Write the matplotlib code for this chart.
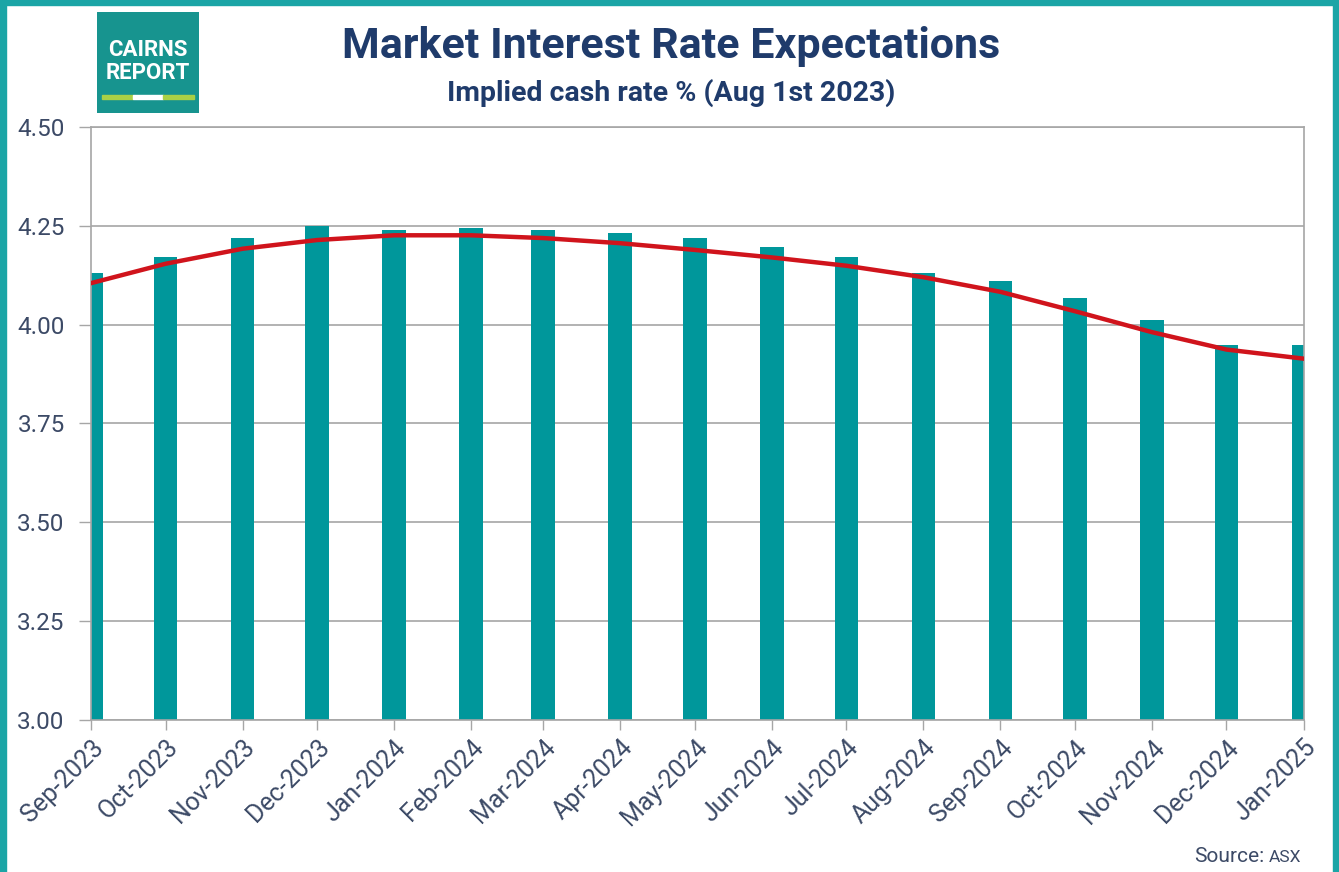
import numpy as np
import pandas as pd
import matplotlib
matplotlib.use("Agg")
import matplotlib.pyplot as plt
import matplotlib.dates as mdates
from matplotlib.patches import Rectangle

# Данные: ожидаемая ставка по месяцам
months = pd.date_range("2023-09-01", "2025-01-01", freq="MS")
rates = [4.131, 4.171, 4.220, 4.250, 4.240, 4.244, 4.240, 4.233, 4.220,
         4.196, 4.171, 4.131, 4.111, 4.067, 4.012, 3.948, 3.948]
# сглаженная кривая (красная линия)
trend = [4.105, 4.154, 4.192, 4.214, 4.226, 4.226, 4.219, 4.206, 4.189,
         4.170, 4.149, 4.120, 4.083, 4.034, 3.981, 3.937, 3.914]
y_ticks = [3.00, 3.25, 3.50, 3.75, 4.00, 4.25, 4.50]

title = "Market Interest Rate Expectations"
subtitle = "Implied cash rate % (Aug 1st 2023)"

navy = "#1f3b6b"
label_col = "#3c4a66"
bar_col = "#00979b"
border_col = "#1ba5a6"

plt.rcParams["font.family"] = ["Roboto", "DejaVu Sans"]

fig = plt.figure(figsize=(13.39, 8.72), dpi=100)
fig.patch.set_facecolor("white")

ax = fig.add_axes([0.068, 0.1743, 0.9055, 0.6801])

xn = mdates.date2num(months)

# столбцы
ax.bar(xn, rates, width=9.5, color=bar_col, zorder=2)
# красная линия
ax.plot(xn, trend, color="#d0141c", lw=3.2, zorder=3, solid_joinstyle="round")

ax.set_xlim(xn[0], xn[-1])
ax.set_ylim(3.0, 4.5)
ax.set_yticks(y_ticks)
ax.set_yticklabels([f"{v:.2f}" for v in y_ticks])
ax.set_xticks(xn)
ax.set_xticklabels([d.strftime("%b-%Y") for d in months], rotation=45,
                   ha="right", rotation_mode="anchor")

ax.grid(axis="y", color="#a6a6a6", lw=1.2, zorder=1)
for s in ["left", "right", "bottom", "top"]:
    ax.spines[s].set_color("#a6a6a6")
    ax.spines[s].set_linewidth(1.2)
ax.tick_params(axis="y", length=9, width=1, color="#a6a6a6", labelsize=17.5,
               labelcolor=label_col, pad=10)
ax.tick_params(axis="x", length=7, width=1, color="#a6a6a6", labelsize=18,
               labelcolor=label_col, pad=4)

# заголовки
fig.text(0.501, 0.947, title, ha="center", va="center", fontsize=31,
         fontweight="bold", color=navy)
fig.text(0.501, 0.894, subtitle, ha="center", va="center", fontsize=20.5,
         fontweight="bold", color=navy)

# источник
fig.text(0.9715, 0.012, "ASX", ha="right", va="baseline", fontsize=12.5,
         color=label_col)
fig.text(0.9445, 0.012, "Source:", ha="right", va="baseline", fontsize=15,
         color=label_col)

# логотип
lax = fig.add_axes([97 / 1339, 1 - 113 / 872, 102 / 1339, 101 / 872])
lax.set_xlim(0, 102)
lax.set_ylim(101, 0)
lax.axis("off")
lax.add_patch(Rectangle((0, 0), 102, 101, color="#17948f"))
lax.text(51, 38, "CAIRNS", ha="center", va="center", color="white",
         fontsize=16, fontweight="bold")
lax.text(51, 61, "REPORT", ha="center", va="center", color="white",
         fontsize=16, fontweight="bold")
lax.add_patch(Rectangle((5, 83.5), 31, 4, color="#a9d046"))
lax.add_patch(Rectangle((36, 83.5), 30, 4, color="white"))
lax.add_patch(Rectangle((66, 83.5), 31, 4, color="#a9d046"))

# рамка
fig.patches.append(Rectangle((0, 0), 6 / 1339, 1, transform=fig.transFigure,
                             color=border_col, zorder=0))
fig.patches.append(Rectangle((1333 / 1339, 0), 6 / 1339, 1,
                             transform=fig.transFigure, color=border_col, zorder=0))
fig.patches.append(Rectangle((0, 1 - 5 / 872), 1, 5 / 872,
                             transform=fig.transFigure, color=border_col, zorder=0))

fig.savefig("out.png", dpi=100)
